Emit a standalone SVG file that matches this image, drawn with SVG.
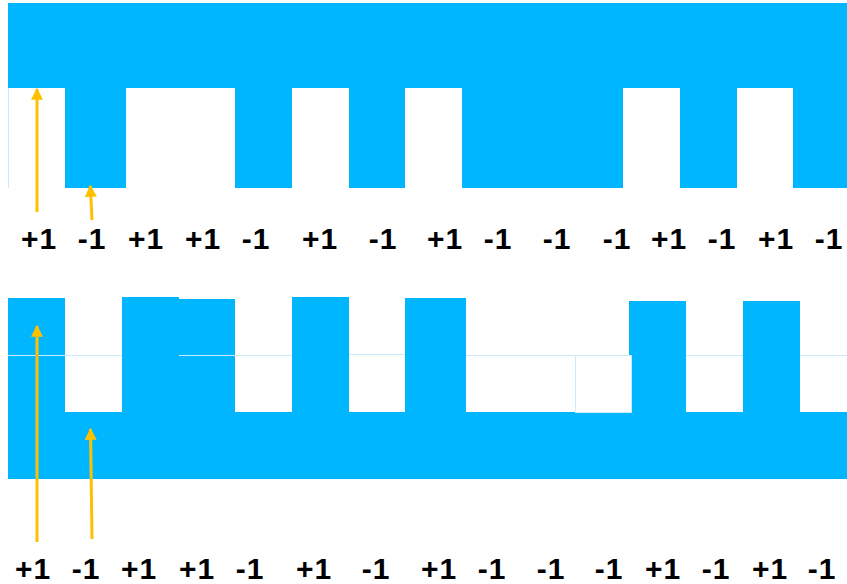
<svg xmlns="http://www.w3.org/2000/svg" width="847" height="584" viewBox="0 0 847 584">
<style>
.b{fill:#00B7FF}
.f{stroke:#C8ECFB;stroke-width:1;fill:none}
.t{font-family:"Liberation Sans",Arial,sans-serif;font-weight:bold;font-size:30px;letter-spacing:1px;fill:#000;text-anchor:middle}
.a{stroke:#FFC000;stroke-width:3;fill:none}
</style>
<defs>
<marker id="ah" viewBox="0 0 10 10" refX="9" refY="5" markerWidth="4" markerHeight="4" orient="auto" markerUnits="strokeWidth">
<path d="M0,0 L10,5 L0,10 z" fill="#FFC000"/>
</marker>
</defs>
<rect width="847" height="584" fill="#fff"/>
<g id="top-signal">
<rect class="b" x="8" y="3" width="839" height="85"/>
<rect class="b" x="65" y="87" width="61" height="101"/>
<rect class="b" x="235" y="87" width="57" height="101"/>
<rect class="b" x="349" y="85" width="56" height="103"/>
<rect class="b" x="462" y="85" width="161" height="103"/>
<rect class="b" x="680" y="87" width="57" height="101"/>
<rect class="b" x="793" y="87" width="54" height="101"/>
<line class="f" x1="8.5" y1="88" x2="8.5" y2="188"/>
</g>
<g id="top-labels">
<text class="t" x="39" y="249">+1</text>
<text class="t" x="92" y="249">-1</text>
<text class="t" x="146" y="249">+1</text>
<text class="t" x="203" y="249">+1</text>
<text class="t" x="256" y="249">-1</text>
<text class="t" x="320" y="249">+1</text>
<text class="t" x="383" y="249">-1</text>
<text class="t" x="445" y="249">+1</text>
<text class="t" x="498" y="249">-1</text>
<text class="t" x="557" y="249">-1</text>
<text class="t" x="617" y="249">-1</text>
<text class="t" x="669" y="249">+1</text>
<text class="t" x="722" y="249">-1</text>
<text class="t" x="776" y="249">+1</text>
<text class="t" x="829" y="249">-1</text>
</g>
<g id="bottom-signal">
<rect class="b" x="8" y="412" width="839" height="67"/>
<rect class="b" x="8" y="298" width="57" height="115"/>
<rect class="b" x="122" y="297" width="57" height="116"/>
<rect class="b" x="179" y="299" width="56" height="114"/>
<rect class="b" x="292" y="297" width="57" height="116"/>
<rect class="b" x="405" y="298" width="61" height="115"/>
<rect class="b" x="629" y="301" width="57" height="112"/>
<rect class="b" x="743" y="301" width="57" height="112"/>
<line class="f" x1="8" y1="355.5" x2="122" y2="355.5"/>
<line class="f" x1="179" y1="355.5" x2="292" y2="355.5"/>
<line class="f" x1="349" y1="354.5" x2="405" y2="354.5"/>
<line class="f" x1="466" y1="355.5" x2="575" y2="355.5"/>
<line class="f" x1="686" y1="355.5" x2="743" y2="355.5"/>
<line class="f" x1="800" y1="355.5" x2="847" y2="355.5"/>
<rect x="575.5" y="355.5" width="56" height="57" fill="#fff" stroke="#C8ECFB" stroke-width="1"/>
</g>
<g id="bottom-labels">
<text class="t" x="33" y="579">+1</text>
<text class="t" x="86" y="579">-1</text>
<text class="t" x="139" y="579">+1</text>
<text class="t" x="197" y="579">+1</text>
<text class="t" x="250" y="579">-1</text>
<text class="t" x="314" y="579">+1</text>
<text class="t" x="376" y="579">-1</text>
<text class="t" x="439" y="579">+1</text>
<text class="t" x="492" y="579">-1</text>
<text class="t" x="551" y="579">-1</text>
<text class="t" x="609" y="579">-1</text>
<text class="t" x="663" y="579">+1</text>
<text class="t" x="716" y="579">-1</text>
<text class="t" x="770" y="579">+1</text>
<text class="t" x="822" y="579">-1</text>
</g>
<g id="connectors">
<line class="a" x1="37" y1="212" x2="37" y2="89" marker-end="url(#ah)"/>
<line class="a" x1="92" y1="220" x2="90.3" y2="186" marker-end="url(#ah)"/>
<line class="a" x1="37" y1="542" x2="37" y2="326" marker-end="url(#ah)"/>
<line class="a" x1="92" y1="539" x2="90.5" y2="429" marker-end="url(#ah)"/>
</g>
</svg>
